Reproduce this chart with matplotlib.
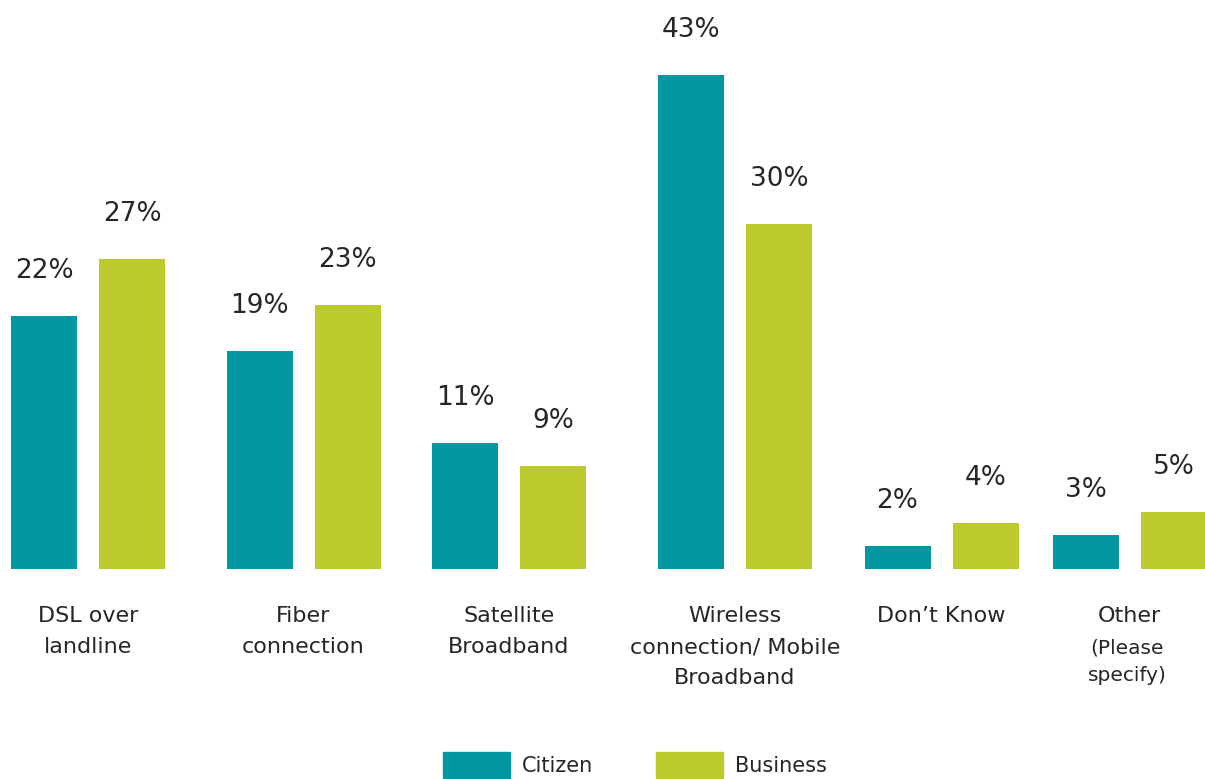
import numpy as np
import matplotlib.pyplot as plt
from matplotlib.patches import Patch

# Broadband connection type, share of respondents (%)
categories = ['DSL over\nlandline', 'Fiber\nconnection', 'Satellite\nBroadband',
              'Wireless\nconnection/ Mobile\nBroadband', 'Don\u2019t Know', 'Other']
citizen = [22, 19, 11, 43, 2, 3]
business = [27, 23, 9, 30, 4, 5]

teal = '#0097a1'
lime = '#bccb2b'
txt = '#262626'

plt.rcParams['font.family'] = 'DejaVu Sans'

fig = plt.figure(figsize=(12.05, 7.79), dpi=100)
ax = fig.add_axes([0, 210 / 779, 1, 569 / 779])

# group centres along the axis (uneven spacing between groups)
centers = np.array([88, 303.5, 509, 735, 941.5, 1129.5])
off = 44
w = 66

ax.bar(centers - off, citizen, width=w, color=teal)
ax.bar(centers + off, business, width=w, color=lime)

for x, v in zip(centers - off, citizen):
    ax.annotate(f'{v}%', (x, v), xytext=(0, 23), textcoords='offset points',
                ha='center', va='bottom', fontsize=19, color=txt)
for x, v in zip(centers + off, business):
    ax.annotate(f'{v}%', (x, v), xytext=(0, 23), textcoords='offset points',
                ha='center', va='bottom', fontsize=19, color=txt)

for x, lab in zip(centers, categories):
    ax.annotate(lab, (x, 0), xytext=(0, -27), textcoords='offset points',
                ha='center', va='top', fontsize=16, color=txt, linespacing=1.66)
ax.annotate('(Please\nspecify)', (centers[-1] - 2, 0), xytext=(0, -50),
            textcoords='offset points', ha='center', va='top', fontsize=14.5,
            color=txt, linespacing=1.55)

ax.set_xlim(0, 1205)
ax.set_ylim(0, 49.5)
ax.axis('off')

handles = [Patch(color=teal, label='Citizen'), Patch(color=lime, label='Business')]
fig.legend(handles=handles, loc='center', bbox_to_anchor=(635 / 1205, 14 / 779),
           ncol=2, frameon=False, fontsize=15, handlelength=3.2, handleheight=1.6,
           handletextpad=0.6, columnspacing=3.0, labelcolor=txt)

fig.savefig('out.png', dpi=100)
